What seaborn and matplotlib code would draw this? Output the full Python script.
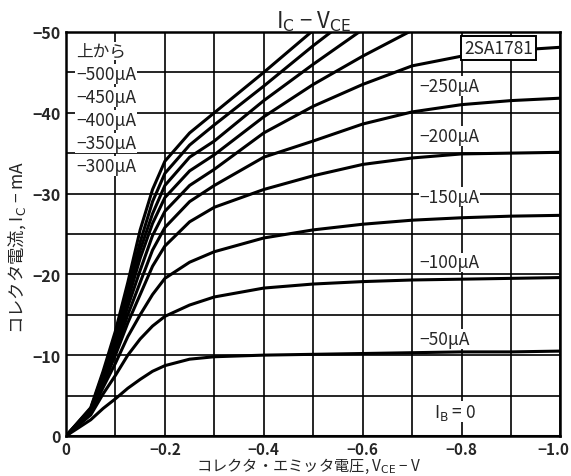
import numpy as np
import pandas as pd
import matplotlib
matplotlib.use("Agg")
import matplotlib.pyplot as plt
import matplotlib.transforms as mtransforms
import seaborn as sns

# collector-emitter voltage (magnitude, V)
vce = [0, 0.05, 0.075, 0.1, 0.125, 0.15, 0.175, 0.2, 0.25, 0.3,
       0.4, 0.5, 0.6, 0.7, 0.8, 0.9, 1.0]

# collector current (magnitude, mA) per base current
ic_500 = [0, 3.5, 8.0, 13.0, 19.0, 25.5, 30.5, 34.0, 37.5, 40.0, 45.0, 50.2]
ic_450 = [0, 3.4, 7.7, 12.5, 18.2, 24.0, 29.0, 32.5, 36.0, 38.5, 43.3, 48.3, 53.0]
ic_400 = [0, 3.3, 7.5, 12.0, 17.5, 23.0, 27.5, 31.0, 34.5, 36.5, 41.5, 46.0, 50.3]
ic_350 = [0, 3.2, 7.2, 11.5, 16.8, 22.0, 26.3, 29.5, 32.8, 34.8, 39.5, 43.5, 47.0, 50.2]
ic_300 = [0, 3.1, 7.0, 11.0, 16.0, 20.5, 24.8, 27.8, 31.0, 33.0, 37.5, 40.8, 43.5, 45.8, 47.0, 47.7, 48.1]
ic_250 = [0, 3.0, 6.7, 10.5, 15.0, 19.0, 23.0, 25.8, 29.0, 31.0, 34.5, 36.5, 38.6, 40.1, 41.0, 41.5, 41.8]
ic_200 = [0, 2.9, 6.4, 10.0, 14.0, 17.5, 21.0, 23.5, 26.5, 28.3, 30.5, 32.2, 33.6, 34.4, 34.9, 35.0, 35.1]
ic_150 = [0, 2.8, 6.0, 9.0, 12.3, 15.0, 17.5, 19.5, 21.5, 22.8, 24.5, 25.5, 26.2, 26.7, 27.0, 27.2, 27.3]
ic_100 = [0, 2.6, 5.2, 7.5, 10.0, 12.0, 13.6, 14.8, 16.2, 17.2, 18.3, 18.8, 19.1, 19.3, 19.4, 19.5, 19.6]
ic_50 = [0, 2.0, 3.4, 4.6, 5.9, 7.0, 8.0, 8.7, 9.5, 9.8, 10.0, 10.1, 10.2, 10.3, 10.4, 10.4, 10.5]
ic_0 = [0] * 17

curves = {500: ic_500, 450: ic_450, 400: ic_400, 350: ic_350, 300: ic_300,
          250: ic_250, 200: ic_200, 150: ic_150, 100: ic_100, 50: ic_50, 0: ic_0}

left_labels = ["−500μA", "−450μA", "−400μA", "−350μA", "−300μA"]
right_labels = ["−250μA", "−200μA", "−150μA", "−100μA", "−50μA"]

rows = []
for ib, ic in curves.items():
    for v, i in zip(vce, ic):
        rows.append({"ib": ib, "vce": -v, "ic": -i})
df = pd.DataFrame(rows)

sns.set_style("white")
plt.rcParams["font.family"] = ["Noto Sans CJK JP", "DejaVu Sans"]

fig = plt.figure(figsize=(5.71, 4.77), dpi=100)
ax = fig.add_axes([0.1156, 0.084, 0.866, 0.847])

sns.lineplot(data=df, x="vce", y="ic", hue="ib", units="ib", estimator=None,
             palette={k: "black" for k in curves}, linewidth=2.2, legend=False, ax=ax)

ax.set_xlim(0, -1.0)
ax.set_ylim(0, -50)
ax.set_xticks(np.arange(0, -1.01, -0.2))
ax.set_xticks(np.arange(0, -1.01, -0.1), minor=True)
ax.set_yticks(np.arange(0, -51, -10))
ax.set_yticks(np.arange(0, -51, -5), minor=True)
ax.set_xticklabels(["0", "−0.2", "−0.4", "−0.6", "−0.8", "−1.0"], fontsize=11, fontweight="bold")
ax.set_yticklabels(["0", "−10", "−20", "−30", "−40", "−50"], fontsize=11.5, fontweight="bold")
ax.tick_params(which="both", direction="out", length=3, width=1.2, color="black", pad=1)
last = ax.get_xticklabels()[-1]
last.set_ha("right")
last.set_transform(last.get_transform() + mtransforms.ScaledTranslation(6.5 / 72, 0, fig.dpi_scale_trans))
ax.grid(which="both", color="black", linewidth=1.2)
for s in ax.spines.values():
    s.set_color("black")
    s.set_linewidth(1.8)

ax.set_xlabel("コレクタ・エミッタ電圧, V$_{\\rm CE}$ − V", fontsize=11)
ax.xaxis.set_label_coords(0.49, -0.05)
ax.set_ylabel("コレクタ電流, I$_{\\rm C}$ − mA", fontsize=12.5)
ax.yaxis.set_label_coords(-0.077, 0.47)
ax.set_title("I$_{\\rm C}$ − V$_{\\rm CE}$", fontsize=16, pad=3)

tb = dict(fc="white", ec="none", pad=0.5)
ax.text(-0.02, -47.6, "上から", fontsize=12, va="center", bbox=tb)
for k, lab in enumerate(left_labels):
    ax.text(-0.02, -44.8 + 2.85 * k, lab, fontsize=12.5, va="center", bbox=tb)
for lab, y in zip(right_labels, [-43.3, -37.1, -29.6, -21.5, -12.0]):
    ax.text(-0.715, y, lab, fontsize=12.5, va="center", bbox=tb)
ax.text(-0.745, -3.0, "I$_{\\rm B}$ = 0", fontsize=12.5, va="center", bbox=tb)
ax.text(-0.805, -48.0, "2SA1781", fontsize=12.5, va="center",
        bbox=dict(boxstyle="square,pad=0.15", fc="white", ec="black", lw=1.4))

fig.savefig("out.png", dpi=100)
